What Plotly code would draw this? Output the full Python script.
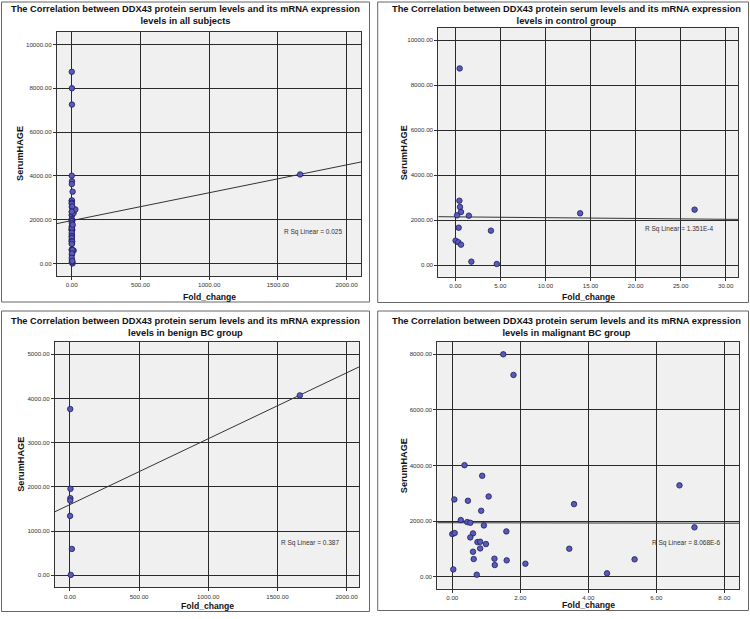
import plotly.graph_objects as go
import numpy as np

# ---------------- data ----------------
control_x = [0.45, 0.52, 0.63, 0.19, 1.50, 0.37, 3.95, 0.03, 0.33, 0.63, 1.78, 4.60, 13.85, 26.55, 0.48]
control_y = [2870, 2590, 2368, 2220, 2205, 1672, 1540, 1095, 1025, 918, 163, 59, 2311, 2474, 8750]

benign_x = [2, 4, 3, 2, 1, 14, 6, 1662]
benign_y = [3761, 1956, 1745, 1692, 1344, 597, 10, 4070]

malignant_x = [1.50, 1.80, 0.36, 0.88, 1.07, 0.06, 0.46, 3.58, 0.85, 0.25, 0.44, 0.53, 0.93,
               0.00, 0.07, 0.61, 1.59, 0.53, 0.74, 0.82, 0.99, 0.82, 3.44, 0.61, 0.63, 1.24,
               1.60, 5.36, 1.25, 2.15, 0.03, 0.72, 4.55, 6.68, 7.12]
malignant_y = [8000, 7257, 4012, 3629, 2886, 2778, 2731, 2611, 2371, 2036, 1964, 1940, 1844,
               1533, 1569, 1557, 1629, 1413, 1246, 1257, 1174, 1018, 1006, 898, 635, 647,
               587, 623, 419, 467, 263, 72, 120, 3285, 1775]

all_x = control_x + benign_x + malignant_x
all_y = control_y + benign_y + malignant_y

panel_titles = [
    "The Correlation between DDX43 protein serum levels and its mRNA expression<br>levels in all subjects",
    "The Correlation between DDX43 protein serum levels and its mRNA expression<br>levels in control group",
    "The Correlation between DDX43 protein serum levels and its mRNA expression<br>levels in benign BC group",
    "The Correlation between DDX43 protein serum levels and its mRNA expression<br>levels in malignant BC group",
]
r_sq_labels = ["R Sq Linear = 0.025", "R Sq Linear = 1.351E-4", "R Sq Linear = 0.387", "R Sq Linear = 8.068E-6"]
fit_intercept = [1965, 2153, 1600, 1940]
fit_slope = [1.27, -3.6, 1.49, -2.0]
x_axis_title = "Fold_change"
y_axis_title = "SerumHAGE"

# ---------------- layout geometry ----------------
W, H = 750, 619
FONT = "Liberation Sans, Arial, sans-serif"

def px(x):
    return x / W

def py(y):
    return 1 - y / H

panels = [
    dict(xs=all_x, ys=all_y, plot=(57, 361, 32, 276), xr=[-107, 2105], yr=[-561, 10565],
         dx=500, dy=2000, box=(1.5, 369.5, 2, 302), title_xy=(185, 14.5), rsq_xy=(313, 232),
         ytitle_x=20, xtitle_y=297),
    dict(xs=control_x, ys=control_y, plot=(438.3, 738.3, 28, 276.7), xr=[-1.89, 31.4], yr=[-507, 10547],
         dx=5, dy=2000, box=(377.7, 748.5, 2, 302.5), title_xy=(566, 14.5), rsq_xy=(679, 229),
         ytitle_x=404, xtitle_y=297),
    dict(xs=benign_x, ys=benign_y, plot=(55, 359.3, 342.3, 587.3), xr=[-108, 2092], yr=[-271, 5271],
         dx=500, dy=1000, box=(1.5, 369.5, 311, 611.5), title_xy=(185, 326.5), rsq_xy=(310, 543),
         ytitle_x=21, xtitle_y=606),
    dict(xs=malignant_x, ys=malignant_y, plot=(437.3, 739, 341.7, 588.7), xr=[-0.44, 8.43], yr=[-432, 8453],
         dx=2, dy=2000, box=(377.7, 748.5, 311, 610.5), title_xy=(566, 326.5), rsq_xy=(686, 543),
         ytitle_x=404, xtitle_y=605),
]

fig = go.Figure()
shapes = []
annotations = []
layout_axes = {}

for i, p in enumerate(panels):
    n = i + 1
    xa = "x" if n == 1 else f"x{n}"
    ya = "y" if n == 1 else f"y{n}"
    l, r, t, b = p["plot"]

    # regression line from stored coefficients
    x0, x1 = p["xr"]
    fig.add_trace(go.Scatter(
        x=[x0, x1], y=[fit_intercept[i] + fit_slope[i] * x0, fit_intercept[i] + fit_slope[i] * x1],
        mode="lines", line=dict(color="#333333", width=1), xaxis=xa, yaxis=ya,
        showlegend=False, hoverinfo="skip"))
    # points
    fig.add_trace(go.Scatter(
        x=p["xs"], y=p["ys"], mode="markers",
        marker=dict(size=5.5, color="#5a5ab8", line=dict(color="#1c1c60", width=0.8)),
        xaxis=xa, yaxis=ya, showlegend=False, cliponaxis=False))

    common = dict(showgrid=True, gridcolor="#2a2a2a", gridwidth=1, zeroline=False,
                  showline=True, linecolor="#333333", linewidth=1, mirror=True,
                  ticks="outside", ticklen=3, tickcolor="#333333", tickformat=".2f",
                  tickfont=dict(family=FONT, size=6.2, color="#333333"))
    layout_axes["xaxis" if n == 1 else f"xaxis{n}"] = dict(
        common, domain=[px(l), px(r)], range=p["xr"], dtick=p["dx"], tick0=0,
        anchor=ya)
    layout_axes["yaxis" if n == 1 else f"yaxis{n}"] = dict(
        common, domain=[py(b), py(t)], range=p["yr"], dtick=p["dy"], tick0=0,
        anchor=xa)

    # panel border
    bx0, bx1, by0, by1 = p["box"]
    shapes.append(dict(type="rect", xref="paper", yref="paper",
                       x0=px(bx0), x1=px(bx1), y0=py(by1), y1=py(by0),
                       line=dict(color="#666666", width=1), fillcolor="rgba(0,0,0,0)", layer="below"))

    tx, ty = p["title_xy"]
    annotations.append(dict(text=f"<b>{panel_titles[i]}</b>", x=px(tx), y=py(ty), xref="paper", yref="paper",
                            showarrow=False, xanchor="center", yanchor="middle",
                            font=dict(family=FONT, size=9.3, color="#111111"), align="center"))
    rx, ry = p["rsq_xy"]
    annotations.append(dict(text=r_sq_labels[i], x=px(rx), y=py(ry), xref="paper", yref="paper",
                            showarrow=False, xanchor="center", yanchor="middle",
                            font=dict(family=FONT, size=6.5, color="#333333")))
    annotations.append(dict(text=f"<b>{x_axis_title}</b>", x=px((l + r) / 2), y=py(p["xtitle_y"]),
                            xref="paper", yref="paper", showarrow=False, xanchor="center", yanchor="middle",
                            font=dict(family=FONT, size=8.6, color="#111111")))
    annotations.append(dict(text=f"<b>{y_axis_title}</b>", x=px(p["ytitle_x"]), y=py((t + b) / 2),
                            xref="paper", yref="paper", showarrow=False, xanchor="center", yanchor="middle",
                            textangle=-90, font=dict(family=FONT, size=9.2, color="#111111")))

fig.update_layout(
    width=W, height=H, margin=dict(l=0, r=0, t=0, b=0),
    paper_bgcolor="white", plot_bgcolor="#f0f0f0",
    shapes=shapes, annotations=annotations, **layout_axes)

fig.write_html("out.html", config={"displayModeBar": False},
               post_script="document.body.style.margin='0';document.body.style.overflow='hidden';")
